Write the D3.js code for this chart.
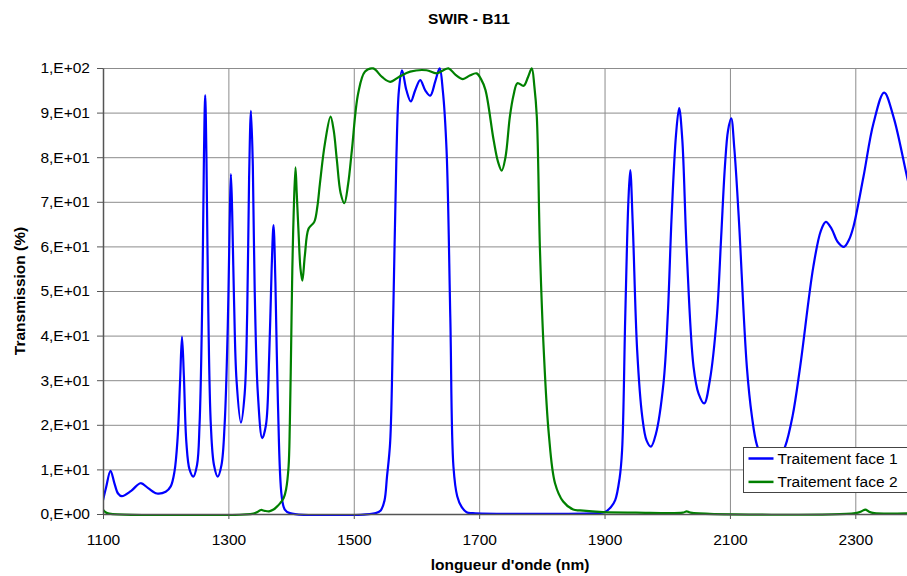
<!DOCTYPE html>
<html>
<head>
<meta charset="utf-8">
<script src="https://cdn.jsdelivr.net/npm/d3@7"></script>
<style>
  body { margin: 0; background: #fff; }
  svg { display: block; font-family: "Liberation Sans", Arial, sans-serif; }
</style>
</head>
<body>
<svg width="907" height="576"></svg>
<script>
const seriesNames = ["Traitement face 1", "Traitement face 2"];
const seriesColors = ["#0000ff", "#008000"];

// [longueur d'onde (nm), transmission (%)]
const face1 = [
  [1100, 3.1], [1105, 6], [1112, 9.7], [1118, 7], [1124, 4.6], [1130, 4.0], [1145, 5.2],
  [1160, 6.9], [1172, 5.8], [1186, 4.6], [1200, 5.0], [1208, 6.2], [1214, 9.5], [1219, 17],
  [1223, 30], [1226, 39.8], [1229, 31], [1233, 16], [1238, 10], [1244, 8.4], [1250, 11],
  [1254, 20], [1258, 45], [1261, 80], [1263, 93.9], [1265, 80], [1268, 45], [1272, 20],
  [1277, 11], [1283, 8.4], [1289, 11], [1294, 20], [1299, 42], [1302, 65], [1304, 76.2],
  [1306, 68], [1309, 48], [1313, 30], [1320, 20.5], [1326, 27], [1330, 45], [1333, 75],
  [1336, 90.4], [1339, 78], [1342, 50], [1347, 27], [1354, 17.0], [1360, 20], [1365, 35],
  [1369, 55], [1372, 64.8], [1375, 52], [1379, 25], [1385, 4], [1390, 1], [1398, 0.2],
  [1535, 0.2], [1543, 0.8], [1549, 3], [1553, 8.4], [1558, 16], [1563, 45], [1568, 80],
  [1572, 95], [1577, 99.5], [1584, 95], [1591, 92.5], [1598, 95], [1606, 97.3], [1614, 95],
  [1622, 93.8], [1630, 97], [1637, 99.9], [1642, 95], [1648, 81.6], [1654, 44], [1659, 10.6],
  [1665, 4], [1672, 1.6], [1680, 0.4], [1690, 0.2], [1890, 0.2], [1900, 0.4], [1910, 1.5],
  [1917, 3.1], [1924, 8], [1928, 14.3], [1933, 44], [1938, 70], [1941, 77.1], [1945, 65],
  [1952, 36.8], [1960, 22], [1967, 16.5], [1974, 15.1], [1982, 18], [1994, 29.3], [2001, 45],
  [2007, 66.7], [2014, 85], [2019, 91], [2024, 84], [2031, 59.2], [2042, 33], [2050, 27],
  [2059, 24.8], [2068, 30], [2079, 44], [2086, 62], [2092, 77.9], [2097, 86], [2102, 88.7],
  [2107, 82], [2114, 66.7], [2127, 33], [2135, 22], [2143, 15.5], [2155, 11.5], [2165, 10.5],
  [2175, 11.5], [2188, 15.1], [2200, 22], [2212, 33], [2233, 55.4], [2245, 63.5], [2253, 65.5],
  [2262, 64], [2272, 61], [2282, 59.9], [2290, 61.5], [2297, 64.4], [2313, 75.6], [2329, 87.6],
  [2346, 94.5], [2361, 89], [2383, 75.3], [2400, 65]
];

const face2 = [
  [1100, 1.0], [1104, 0.4], [1110, 0.1], [1340, 0.1], [1347, 0.5], [1352, 0.9], [1358, 0.7],
  [1365, 0.6], [1372, 1.0], [1377, 1.6], [1383, 2.5], [1388, 3.5], [1392, 5.5], [1396, 10.6],
  [1398, 20], [1400, 36.8], [1402, 55], [1404, 66.7], [1407, 77.7], [1409, 72], [1412, 62.9],
  [1415, 55], [1418, 52.3], [1422, 58], [1428, 64], [1437, 65.5], [1442, 69], [1446, 74.1],
  [1454, 83.1], [1463, 89.1], [1468, 86], [1473, 79.4], [1479, 72], [1485, 69.7], [1491, 74],
  [1497, 81.6], [1507, 94.3], [1518, 99.2], [1531, 99.9], [1545, 98], [1558, 96.9], [1572, 98],
  [1590, 99.2], [1616, 99.5], [1632, 98.8], [1651, 99.9], [1662, 98.5], [1674, 97.5], [1685, 98.3],
  [1696, 98.8], [1703, 97.5], [1710, 95.1], [1723, 83.9], [1730, 79], [1736, 77], [1742, 80],
  [1749, 89.1], [1755, 94], [1761, 96.6], [1771, 96], [1778, 98], [1784, 99.9], [1788, 96],
  [1792, 89], [1797, 59.2], [1803, 36.8], [1811, 18.1], [1821, 6.9], [1834, 2.8], [1850, 1.0],
  [1861, 0.8], [1898, 0.4], [1950, 0.3], [2025, 0.3], [2031, 0.6], [2037, 0.3], [2300, 0.2],
  [2310, 0.6], [2316, 1.0], [2322, 0.5], [2330, 0.2], [2400, 0.2]
];

const xTicks = [1100, 1300, 1500, 1700, 1900, 2100, 2300];
const xTickLabels = ["1100", "1300", "1500", "1700", "1900", "2100", "2300"];
const yTicks = [0, 10, 20, 30, 40, 50, 60, 70, 80, 90, 100];
const yTickLabels = ["0,E+00", "1,E+01", "2,E+01", "3,E+01", "4,E+01", "5,E+01",
  "6,E+01", "7,E+01", "8,E+01", "9,E+01", "1,E+02"];

const svg = d3.select("svg");
const pLeft = 103, pRight = 918, pTop = 68, pBottom = 514;
const fs = 15.5;

const x = d3.scaleLinear().domain([1100, 2400]).range([pLeft, pRight]);
const y = d3.scaleLinear().domain([0, 100]).range([pBottom, pTop]);

// grid
svg.append("g")
  .attr("transform", `translate(0,${pBottom})`)
  .call(d3.axisBottom(x).tickValues(xTicks).tickSize(-(pBottom - pTop)).tickFormat(""))
  .call(g => g.select(".domain").remove())
  .selectAll("line").attr("stroke", "#8c8c8c");

svg.append("g")
  .attr("transform", `translate(${pLeft},0)`)
  .call(d3.axisLeft(y).tickValues(yTicks).tickSize(-(pRight - pLeft)).tickFormat(""))
  .call(g => g.select(".domain").remove())
  .selectAll("line").attr("stroke", "#8c8c8c");

// curves
const line = d3.line()
  .x(d => x(d[0]))
  .y(d => y(d[1]))
  .curve(d3.curveCatmullRom.alpha(0.5));

svg.append("defs").append("clipPath").attr("id", "clip")
  .append("rect").attr("x", pLeft).attr("y", pTop - 4).attr("width", pRight - pLeft).attr("height", pBottom - pTop + 6);

const plot = svg.append("g").attr("clip-path", "url(#clip)");
[face1, face2].forEach((s, i) => {
  plot.append("path")
    .datum(s)
    .attr("fill", "none")
    .attr("stroke", seriesColors[i])
    .attr("stroke-width", 2.2)
    .attr("stroke-linejoin", "round")
    .attr("d", line);
});

// axes
const xAxis = svg.append("g")
  .attr("transform", `translate(0,${pBottom})`)
  .call(d3.axisBottom(x).tickValues(xTicks).tickSize(5).tickSizeOuter(0).tickPadding(15)
    .tickFormat((d, i) => xTickLabels[i]));
const yAxis = svg.append("g")
  .attr("transform", `translate(${pLeft},0)`)
  .call(d3.axisLeft(y).tickValues(yTicks).tickSize(6).tickSizeOuter(0).tickPadding(7)
    .tickFormat((d, i) => yTickLabels[i]));

[xAxis, yAxis].forEach(a => {
  a.select(".domain").attr("stroke", "#555").attr("stroke-width", 1.5);
  a.selectAll(".tick line").attr("stroke", "#555");
  a.selectAll("text").attr("fill", "#000").attr("font-size", fs)
    .attr("font-family", "'Liberation Sans', Arial, sans-serif");
});

// titles
svg.append("text")
  .attr("x", 469).attr("y", 24)
  .attr("text-anchor", "middle")
  .attr("font-size", fs).attr("font-weight", "bold")
  .text("SWIR - B11");

svg.append("text")
  .attr("x", 510).attr("y", 570)
  .attr("text-anchor", "middle")
  .attr("font-size", fs).attr("font-weight", "bold")
  .text("longueur d'onde (nm)");

svg.append("text")
  .attr("transform", "translate(25,291) rotate(-90)")
  .attr("text-anchor", "middle")
  .attr("font-size", fs).attr("font-weight", "bold")
  .text("Transmission (%)");

// legend
const legend = svg.append("g").attr("transform", "translate(743.5,447.5)");
legend.append("rect")
  .attr("width", 175).attr("height", 45)
  .attr("fill", "#fff").attr("stroke", "#444").attr("stroke-width", 1);

seriesNames.forEach((name, i) => {
  const row = legend.append("g").attr("transform", `translate(0,${11 + i * 23.4})`);
  row.append("line")
    .attr("x1", 5).attr("x2", 30)
    .attr("stroke", seriesColors[i]).attr("stroke-width", 2.5);
  row.append("text")
    .attr("x", 34).attr("y", 5.5)
    .attr("font-size", fs)
    .text(name);
});
</script>
</body>
</html>
